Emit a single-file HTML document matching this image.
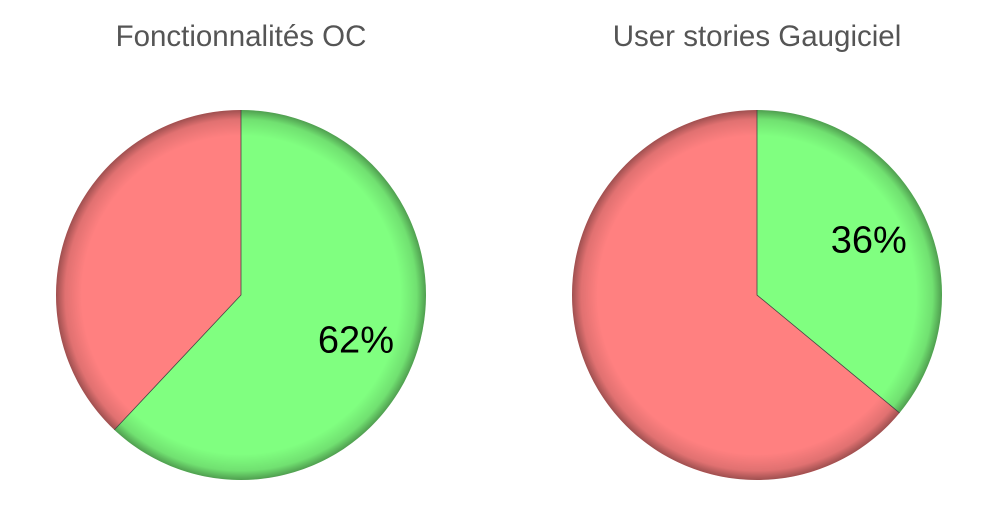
<!DOCTYPE html>
<html><head><meta charset="utf-8"><style>
body{margin:0;background:#fff;}
svg{display:block;font-family:"Liberation Sans",sans-serif;}
</style></head><body>
<svg id="chart" width="1000" height="522">
<defs>
<radialGradient id="bevel" cx="50%" cy="50%" r="50%">
<stop offset="0.86" stop-color="#000" stop-opacity="0"/>
<stop offset="0.95" stop-color="#000" stop-opacity="0.12"/>
<stop offset="1" stop-color="#000" stop-opacity="0.38"/>
</radialGradient>
</defs>
</svg>
<script>
const titles = ["Fonctionnalités OC", "User stories Gaugiciel"];
const greenShare = [62, 36];
const labels = ["62%", "36%"];
const centersX = [241, 757];
const cy = 295, R = 185;
const svg = document.getElementById('chart');
const NS = 'http://www.w3.org/2000/svg';
function pt(cx, frac, r){ const a = frac*2*Math.PI; return [cx + r*Math.sin(a), cy - r*Math.cos(a)]; }
titles.forEach((t,i)=>{
  const cx = centersX[i], f = greenShare[i]/100;
  const g = document.createElementNS(NS,'g');
  
  
  svg.appendChild(g);
  const title = document.createElementNS(NS,'text');
  
  
  title.setAttribute('x', cx); title.setAttribute('y', 46);
  title.setAttribute('text-anchor','middle'); title.setAttribute('font-size','29.5');
  title.setAttribute('fill','#555'); title.textContent = t;
  g.appendChild(title);
  const [ex, ey] = pt(cx, f, R);
  const large = f > 0.5 ? 1 : 0;
  const green = document.createElementNS(NS,'path');
  
  
  green.setAttribute('d', `M${cx},${cy} L${cx},${cy-R} A${R},${R} 0 ${large} 1 ${ex},${ey} Z`);
  green.setAttribute('fill','#80ff80');
  g.appendChild(green);
  const red = document.createElementNS(NS,'path');
  
  
  red.setAttribute('d', `M${cx},${cy} L${ex},${ey} A${R},${R} 0 ${1-large} 1 ${cx},${cy-R} Z`);
  red.setAttribute('fill','#ff8080');
  g.appendChild(red);
  const bev = document.createElementNS(NS,'circle');
  
  
  bev.setAttribute('cx', cx); bev.setAttribute('cy', cy); bev.setAttribute('r', R);
  bev.setAttribute('fill','url(#bevel)');
  g.appendChild(bev);
  const sep = document.createElementNS(NS,'path');
  
  
  sep.setAttribute('d', `M${cx},${cy-R} L${cx},${cy} L${ex},${ey}`);
  sep.setAttribute('stroke','#444'); sep.setAttribute('stroke-width','0.8'); sep.setAttribute('fill','none');
  g.appendChild(sep);
  const [lx, ly] = pt(cx, f/2, R*0.68);
  const lab = document.createElementNS(NS,'text');
  
  
  lab.setAttribute('x', lx - 2); lab.setAttribute('y', ly + 11);
  lab.setAttribute('text-anchor','middle'); lab.setAttribute('font-size','38');
  lab.setAttribute('fill','#000'); lab.textContent = labels[i];
  g.appendChild(lab);
});
</script>
</body></html>
